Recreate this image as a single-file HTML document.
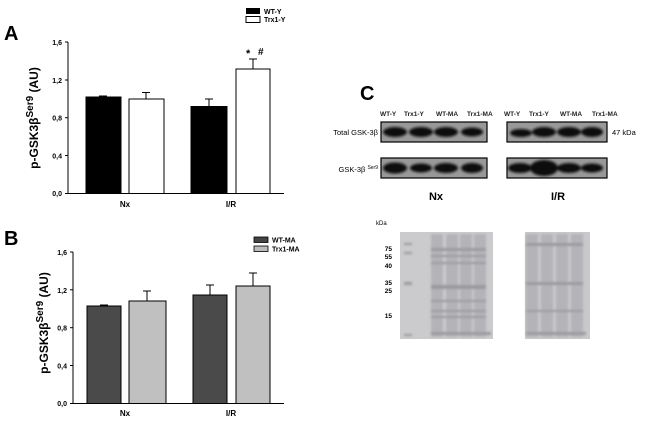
<!DOCTYPE html>
<html><head><meta charset="utf-8"><style>
body{margin:0;background:#fff;}
svg text{font-family:"Liberation Sans",Arial,sans-serif;}
</style></head><body>
<svg width="650" height="423" viewBox="0 0 650 423" xmlns="http://www.w3.org/2000/svg">
<defs>
<filter id="blur"><feGaussianBlur stdDeviation="1.2"/></filter>
<filter id="blur2"><feGaussianBlur stdDeviation="1"/></filter>
</defs>
<!-- Panel A -->
<text x="4" y="40" font-size="20" font-weight="bold">A</text>
<rect x="246" y="8" width="14" height="6" fill="#000"/>
<text x="264" y="14" font-size="7" font-weight="bold">WT-Y</text>
<rect x="246" y="16.5" width="14" height="6" fill="#fff" stroke="#000"/>
<text x="264" y="22" font-size="7" font-weight="bold">Trx1-Y</text>
<g stroke="#000" stroke-width="1" fill="none">
<line x1="68" y1="42" x2="68" y2="193.5"/>
<line x1="68" y1="193.5" x2="284" y2="193.5"/>
<line x1="65" y1="42" x2="68" y2="42"/><line x1="65" y1="80" x2="68" y2="80"/><line x1="65" y1="117.7" x2="68" y2="117.7"/><line x1="65" y1="155.5" x2="68" y2="155.5"/><line x1="65" y1="193.5" x2="68" y2="193.5"/>
</g>
<g font-size="7" font-weight="bold" text-anchor="end">
<text x="62" y="45">1,6</text><text x="62" y="83">1,2</text><text x="62" y="120.5">0,8</text><text x="62" y="158.5">0,4</text><text x="62" y="196">0,0</text>
</g>
<text transform="translate(38,118) rotate(-90)" font-size="12" font-weight="bold" text-anchor="middle">p-GSK3β<tspan dy="-5" font-size="10">Ser9</tspan><tspan dy="5"> (AU)</tspan></text>
<g stroke="#000" stroke-width="1">
<rect x="86" y="97" width="35" height="96.5" fill="#000"/>
<rect x="129" y="99" width="35" height="94.5" fill="#fff"/>
<rect x="191" y="106.5" width="36" height="87" fill="#000"/>
<rect x="236" y="69" width="34" height="124.5" fill="#fff"/>
<line x1="103" y1="97" x2="103" y2="96"/><line x1="99" y1="96" x2="107" y2="96"/>
<line x1="146" y1="99" x2="146" y2="92.5"/><line x1="142" y1="92.5" x2="150" y2="92.5"/>
<line x1="209" y1="106.5" x2="209" y2="99"/><line x1="205" y1="99" x2="213" y2="99"/>
<line x1="253" y1="69" x2="253" y2="59"/><line x1="249" y1="59" x2="257" y2="59"/>
</g>
<text x="246" y="57" font-size="11" font-weight="bold">*</text>
<text x="258" y="55" font-size="10" font-weight="bold">#</text>
<text x="125" y="207" font-size="8" font-weight="bold" text-anchor="middle">Nx</text>
<text x="231" y="207" font-size="8" font-weight="bold" text-anchor="middle">I/R</text>

<!-- Panel B -->
<text x="4" y="245" font-size="20" font-weight="bold">B</text>
<rect x="254" y="237" width="14" height="5.5" fill="#444" stroke="#000" stroke-width="0.8"/>
<text x="272" y="242.5" font-size="7" font-weight="bold">WT-MA</text>
<rect x="254" y="246" width="14" height="5.5" fill="#bbb" stroke="#000" stroke-width="0.8"/>
<text x="272" y="251.5" font-size="7" font-weight="bold">Trx1-MA</text>
<g stroke="#000" stroke-width="1" fill="none">
<line x1="73" y1="252" x2="73" y2="403.5"/>
<line x1="73" y1="403.5" x2="284" y2="403.5"/>
<line x1="70" y1="252" x2="73" y2="252"/><line x1="70" y1="289.8" x2="73" y2="289.8"/><line x1="70" y1="327.7" x2="73" y2="327.7"/><line x1="70" y1="365.5" x2="73" y2="365.5"/><line x1="70" y1="403.5" x2="73" y2="403.5"/>
</g>
<g font-size="7" font-weight="bold" text-anchor="end">
<text x="67" y="255">1,6</text><text x="67" y="293">1,2</text><text x="67" y="330.5">0,8</text><text x="67" y="368.5">0,4</text><text x="67" y="406">0,0</text>
</g>
<text transform="translate(48,323) rotate(-90)" font-size="12" font-weight="bold" text-anchor="middle">p-GSK3β<tspan dy="-5" font-size="10">Ser9</tspan><tspan dy="5"> (AU)</tspan></text>
<g stroke="#000" stroke-width="1">
<rect x="87" y="306" width="34" height="97.5" fill="#4a4a4a"/>
<rect x="129" y="301" width="37" height="102.5" fill="#c0c0c0"/>
<rect x="193" y="295" width="34" height="108.5" fill="#4a4a4a"/>
<rect x="236" y="286" width="34" height="117.5" fill="#c0c0c0"/>
<line x1="104" y1="306" x2="104" y2="305"/><line x1="100" y1="305" x2="108" y2="305"/>
<line x1="147" y1="301" x2="147" y2="291"/><line x1="143" y1="291" x2="151" y2="291"/>
<line x1="210" y1="295" x2="210" y2="285"/><line x1="206" y1="285" x2="214" y2="285"/>
<line x1="253" y1="286" x2="253" y2="273"/><line x1="249" y1="273" x2="257" y2="273"/>
</g>
<text x="125" y="416" font-size="8" font-weight="bold" text-anchor="middle">Nx</text>
<text x="231" y="416" font-size="8" font-weight="bold" text-anchor="middle">I/R</text>

<!-- Panel C -->
<text x="360" y="100" font-size="20" font-weight="bold">C</text>
<g font-size="6.5" font-weight="bold" fill="#222">
<text x="380" y="116">WT-Y</text><text x="404" y="116">Trx1-Y</text><text x="436" y="116">WT-MA</text><text x="467" y="116">Trx1-MA</text>
<text x="504" y="116">WT-Y</text><text x="529" y="116">Trx1-Y</text><text x="560" y="116">WT-MA</text><text x="592" y="116">Trx1-MA</text>
</g>
<text x="378" y="135" font-size="7.5" text-anchor="end">Total GSK-3β</text>
<text x="378" y="172" font-size="7.5" text-anchor="end">GSK-3β <tspan font-size="5" dy="-3">Ser9</tspan></text>
<text x="612" y="135" font-size="7.5">47 kDa</text>
<g stroke="#000" stroke-width="1.2">
<rect x="381" y="122" width="106" height="20" fill="#999"/>
<rect x="381" y="158" width="106" height="20" fill="#999"/>
<rect x="507" y="122" width="100" height="20" fill="#999"/>
<rect x="507" y="158" width="100" height="20" fill="#999"/>
</g>
<g fill="#111" filter="url(#blur)">
<ellipse cx="395" cy="132" rx="12" ry="5"/><ellipse cx="421" cy="132" rx="12" ry="5"/><ellipse cx="446" cy="132" rx="12" ry="5"/><ellipse cx="472" cy="132" rx="11" ry="4.5"/>
<ellipse cx="395" cy="168" rx="12" ry="5.5"/><ellipse cx="421" cy="168" rx="11" ry="4.5"/><ellipse cx="446" cy="168" rx="12" ry="5"/><ellipse cx="472" cy="168" rx="11" ry="5"/>
<ellipse cx="521" cy="133" rx="11" ry="4"/><ellipse cx="544" cy="132" rx="12" ry="5"/><ellipse cx="569" cy="132" rx="12" ry="5"/><ellipse cx="592" cy="132" rx="11" ry="5"/>
<ellipse cx="520" cy="168" rx="12" ry="5"/><ellipse cx="544" cy="168" rx="14" ry="8"/><ellipse cx="569" cy="168" rx="12" ry="5"/><ellipse cx="592" cy="168" rx="11" ry="4.5"/>
</g>
<text x="436" y="200" font-size="11" font-weight="bold" text-anchor="middle">Nx</text>
<text x="558" y="200" font-size="11" font-weight="bold" text-anchor="middle">I/R</text>

<text x="376" y="225" font-size="6">kDa</text>
<g font-size="6.5" font-weight="bold" text-anchor="end">
<text x="392" y="251">75</text><text x="392" y="259">55</text><text x="392" y="268">40</text><text x="392" y="285">35</text><text x="392" y="293">25</text><text x="392" y="318">15</text>
</g>
<rect x="400" y="232" width="93" height="107" fill="#cbcbcd"/>
<rect x="525" y="232" width="65" height="107" fill="#c9c9cb"/>
<g filter="url(#blur2)">
<g fill="#b4b4b8">
<rect x="431" y="234" width="12" height="103"/><rect x="446" y="234" width="12" height="103"/><rect x="460" y="234" width="12" height="103"/><rect x="474" y="234" width="12" height="103"/>
<rect x="526" y="234" width="12" height="103"/><rect x="541" y="234" width="12" height="103"/><rect x="556" y="234" width="12" height="103"/><rect x="571" y="234" width="12" height="103"/>
</g>
<g fill="#9a9aa0">
<rect x="431" y="248" width="55" height="3"/><rect x="431" y="255" width="55" height="2"/><rect x="431" y="262" width="55" height="2"/><rect x="431" y="285" width="55" height="4"/><rect x="431" y="300" width="55" height="2"/><rect x="431" y="310" width="55" height="2"/><rect x="431" y="316" width="55" height="2"/><rect x="431" y="332" width="60" height="3"/>
<rect x="526" y="243" width="57" height="3"/><rect x="526" y="282" width="57" height="3"/><rect x="526" y="310" width="57" height="2"/><rect x="526" y="332" width="60" height="3"/>
<rect x="404" y="243" width="8" height="2"/><rect x="404" y="252" width="8" height="2"/><rect x="404" y="282" width="8" height="3"/><rect x="404" y="334" width="8" height="2"/>
</g>
</g>
</svg>
</body></html>
